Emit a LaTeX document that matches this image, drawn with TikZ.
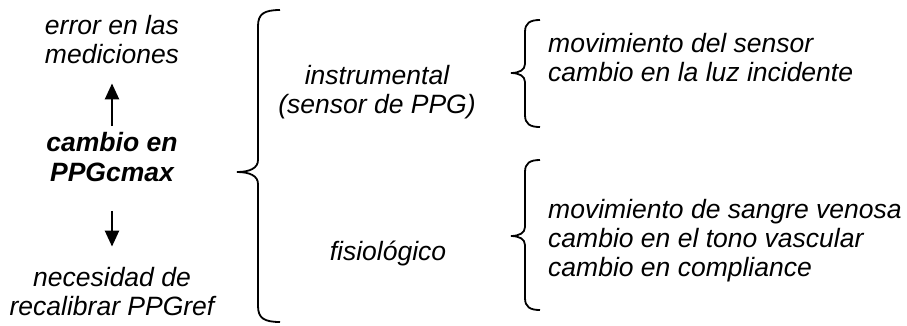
\documentclass[tikz,border=0pt]{standalone}
\usepackage{fontspec}
\setmainfont{Liberation Sans}
\usetikzlibrary{arrows.meta}

\tikzset{
  txt/.style={font=\fontsize{26.5}{29}\selectfont\itshape, inner sep=0pt},
  arr/.style={line width=2.4pt, -{Triangle[width=14pt,length=16pt]}},
  brc/.style={line width=1.8pt}
}

\begin{document}
\begin{tikzpicture}[x=1pt,y=-1pt]
        \useasboundingbox (0,0) rectangle (907,325);
        % left column
            \node[txt,align=center] (error)  at (112,40)  {error en las\\mediciones};
            \node[txt,align=center,font=\fontsize{26.5}{30}\selectfont\bfseries\itshape] (cambio) at (112,157) {cambio en\\PPGcmax};
            \node[txt,align=center] (recal)  at (112,292) {necesidad de\\recalibrar PPGref};
        % arrows
            \draw[arr, shorten <=6pt, shorten >=19pt] (cambio) -- (error);
            \draw[arr, shorten <=29pt, shorten >=21pt] (cambio) -- (recal);

        % big brace
            \draw[brc] (280,10) .. controls (264,10) and (258,14) .. (258,26) -- (258,160)
               .. controls (258,168) and (250,172) .. (237,172)
               .. controls (250,172) and (258,176) .. (258,184) -- (258,306)
               .. controls (258,318) and (264,322) .. (280,322);

        % middle column
            \node[txt,align=center] (instr) at (377,92)  {instrumental\\(sensor de PPG)};
            \node[txt]              (fisio) at (388,253) {fisiológico};

        % small braces
            \draw[brc] (540,20) .. controls (530,20) and (525,23) .. (525,32) -- (525,64)
               .. controls (525,70) and (519,73) .. (511,73)
               .. controls (519,73) and (525,76) .. (525,82) -- (525,115)
               .. controls (525,124) and (530,127) .. (540,127);
            \draw[brc] (540,160) .. controls (530,160) and (525,163) .. (525,172) -- (525,227)
               .. controls (525,233) and (519,236) .. (511,236)
               .. controls (519,236) and (525,239) .. (525,245) -- (525,298)
               .. controls (525,307) and (530,310) .. (540,310);

        % right column
            \node[txt,align=left,anchor=west] (sensor) at (548,58)
               {movimiento del sensor\\cambio en la luz incidente};
            \node[txt,align=left,anchor=west] (sangre) at (548,241)
               {movimiento de sangre venosa\\cambio en el tono vascular\\cambio en compliance};
\end{tikzpicture}
\end{document}
